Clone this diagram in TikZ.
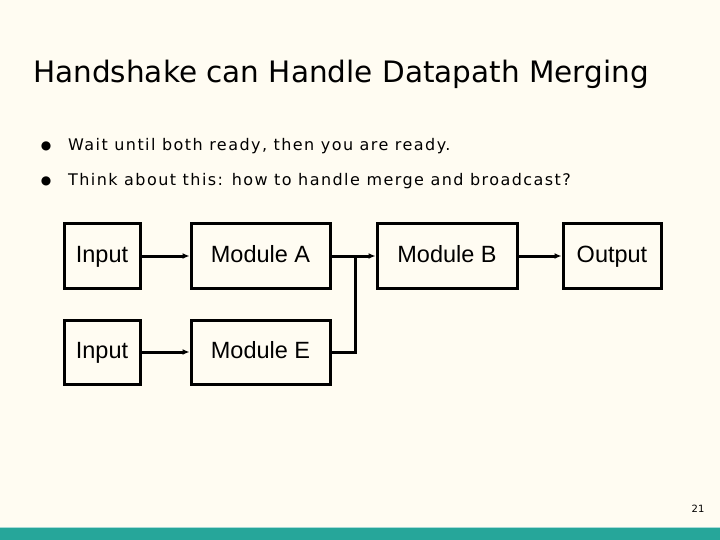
\documentclass[tikz,border=0pt]{standalone}
\usepackage{fontspec}
\setmainfont{Liberation Sans}
\newfontfamily\dv{DejaVu Sans}
\newfontfamily\dvs[LetterSpace=9]{DejaVu Sans}
\usetikzlibrary{arrows.meta}
\definecolor{bg}{HTML}{FFFCF2}
\definecolor{teal}{HTML}{26A69A}
\begin{document}
\begin{tikzpicture}[x=1pt,y=-1pt,
  blk/.style={draw,line width=3pt,minimum height=64pt,inner sep=0pt,text height=17pt,text depth=5pt,font=\fontsize{23.5}{26}\selectfont},
  conn/.style={line width=3pt,-{Latex[length=7pt,width=6pt]}},
  wire/.style={line width=3pt}]
\fill[bg] (0,0) rectangle (720,540);
\useasboundingbox (0,0) rectangle (720,540);
\fill[teal] (0,528) rectangle (720,540);
\draw[teal!40,line width=1pt] (0,527.5) -- (720,527.5);
\node[anchor=base west,inner sep=0pt,font=\dv\fontsize{29.5}{32}\selectfont] (title) at (33,83) {Handshake can Handle Datapath Merging};
\node[anchor=base west,inner sep=0pt,font=\dvs\fontsize{16}{18}\selectfont] (b1) at (68,151) {Wait until both ready, then you are ready.};
\node[anchor=base west,inner sep=0pt,font=\dvs\fontsize{16}{18}\selectfont] (b2) at (68,186) {Think about this: how to handle merge and broadcast?};
\node[font=\dv\fontsize{12}{12}\selectfont] (d1) at (46,146) {●};
\node[font=\dv\fontsize{12}{12}\selectfont] (d2) at (46,181) {●};
\node[font=\dv\fontsize{10}{12}\selectfont] (pg) at (698,509) {21};
\node[blk,minimum width=76pt] (in1) at (102,256) {Input};
\node[blk,minimum width=139pt] (ma) at (260.5,256) {Module A};
\node[blk,minimum width=140pt] (mb) at (447,256) {Module B};
\node[blk,minimum width=98pt] (out) at (612,256) {Output};
\node[blk,minimum width=76pt] (in2) at (102,352) {Input};
\node[blk,minimum width=139pt] (me) at (260.5,352) {Module E};
\coordinate (j) at (355,256);
\draw[conn] (in1) -- (ma);
\draw[conn] (in2) -- (me);
\draw[wire] (ma.east) -- (j);
\draw[wire] (me.east) -| (j);
\draw[conn] (j) -- (mb.west);
\draw[conn] (mb) -- (out);
\end{tikzpicture}
\end{document}
